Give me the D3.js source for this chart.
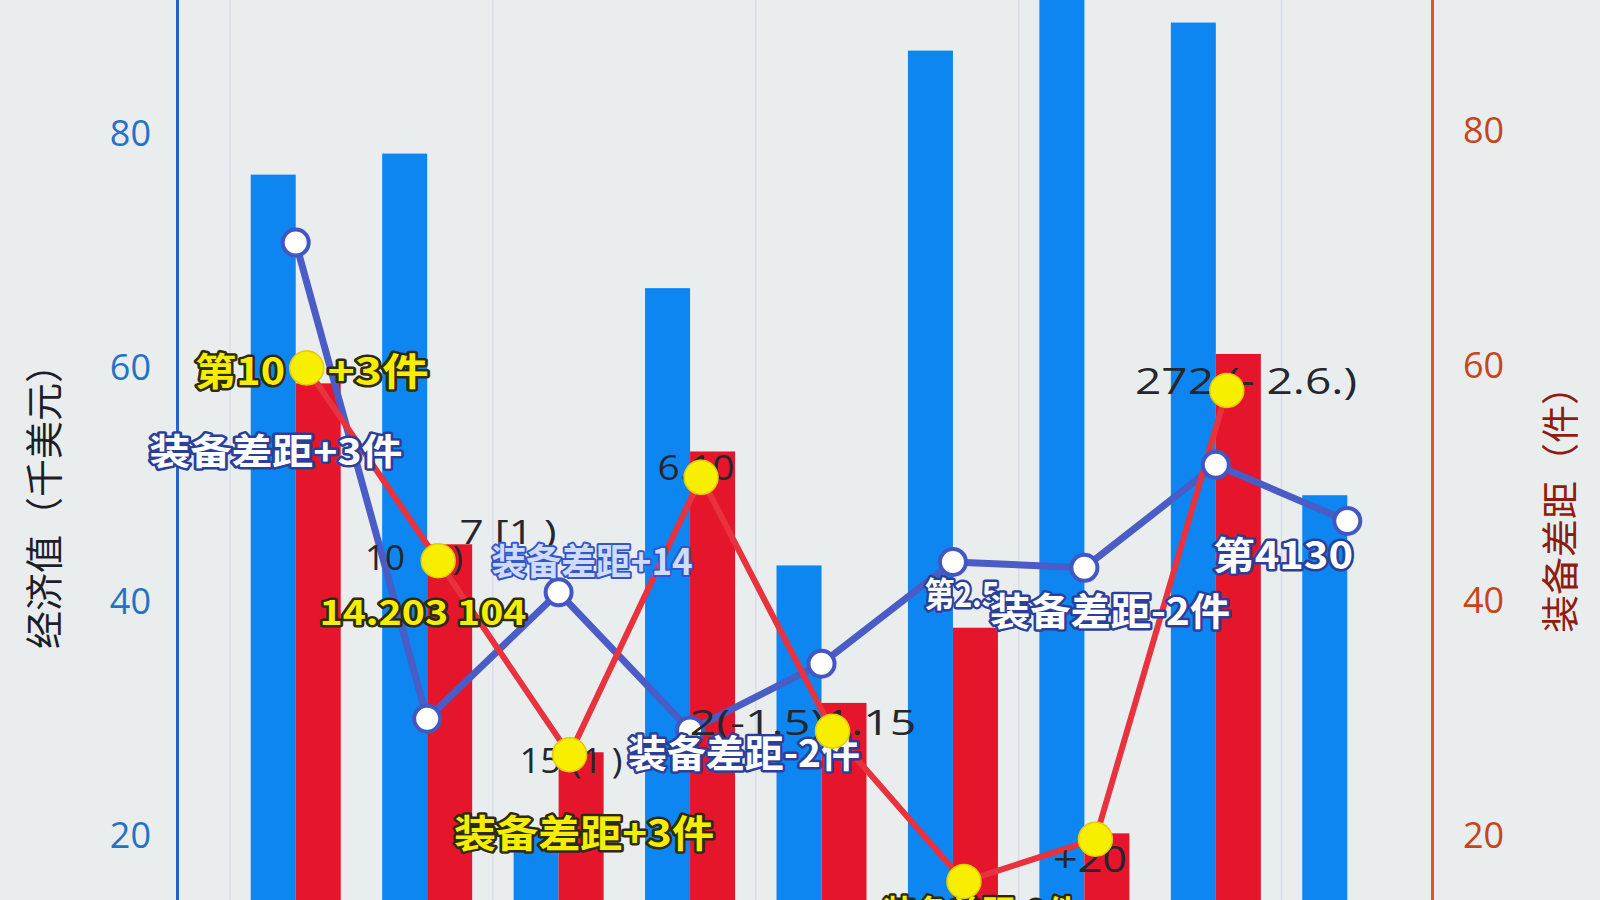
<!DOCTYPE html>
<html>
<head>
<meta charset="utf-8">
<script src="https://cdn.jsdelivr.net/npm/d3@7/dist/d3.min.js"></script>
<style>
  html, body { margin: 0; padding: 0; background: #e9edee; overflow: hidden; }
  svg { display: block; }
</style>
</head>
<body>
<svg id="chart" width="1600" height="900"></svg>
<script>
// ---------------- data ----------------
const categories = ["第1阶段", "第2阶段", "第3阶段", "第4阶段", "第5阶段", "第6阶段", "第7阶段", "第8阶段", "第9阶段"];
const economyBars = [76.5, 78.3, 20.3, 66.8, 43.1, 87.1, 95.0, 89.5, 49.1];   // 经济值（千美元）
const gearBars    = [58.5, 44.8, 27.1, 52.7, 31.3, 37.7, 20.2, 61.0, 8.0];    // 装备差距（件）
const economyLine = [70.7, 30.0, 40.8, 29.0, 34.7, 43.4, 42.9, 51.7, 46.9];
const gearLine    = [59.8, 43.4, 26.9, 50.5, 28.9, 16.1, 19.7, 57.9];
const leftTicks   = [20, 40, 60, 80];
const rightTicks  = [20, 40, 60, 80];
const leftTitle   = "经济值（千美元）";
const rightTitle  = "装备差距（件）";

// annotation texts (styles: y = yellow outlined, w = white/blue outlined, b = light blue, d = dark)
const annoTexts = [
  "第10", "+3件", "装备差距+3件", "10", "-)", "7 [1 )", "14.203 104", "装备差距+14",
  "15 (1 )", "装备差距+3件", "6.10", "2(-1.5)1.15", "装备差距-2件", "第2.5", "装备差距-2件",
  "第4130", "272 (- 2.6.)", "+20", "装备差距-2件"
];
const annoStyles = ["y","y","w","d","d","d","y","b","d","y","d","d","w","w","w","w","d","d","y"];

// ---------------- layout ----------------
const W = 1600, H = 900;
const svg = d3.select("#chart");
const CJK = "'Noto Sans CJK SC', 'Noto Sans', sans-serif";
const LAT = "'Open Sans', 'Noto Sans', sans-serif";

const x = d3.scaleBand().domain(categories).range([230, 1413]).padding(0);
const sub = d3.scaleBand().domain(["econ", "gear"]).range([-45, 45]).padding(0);
const yL = d3.scaleLinear().domain([0, 100]).range([1069.7, -100.3]);
const yR = d3.scaleLinear().domain([0, 100]).range([1070.7, -104.3]);
const cx = c => x(c) + x.bandwidth() / 2;

// background
svg.append("rect").attr("width", W).attr("height", H).attr("fill", "#e9edee");

// vertical grid lines at every other band boundary
svg.append("g").selectAll("line")
  .data(categories.filter((d, i) => i % 2 === 0))
  .join("line")
  .attr("x1", d => x(d)).attr("x2", d => x(d))
  .attr("y1", 0).attr("y2", H)
  .attr("stroke", "#d6deea").attr("stroke-width", 1.5);

// bars
svg.append("g").selectAll("rect")
  .data(categories)
  .join("rect")
  .attr("x", d => cx(d) + sub("econ"))
  .attr("width", sub.bandwidth())
  .attr("y", (d, i) => yL(economyBars[i]))
  .attr("height", (d, i) => yL(0) - yL(economyBars[i]))
  .attr("fill", "#0d86f1");

svg.append("g").selectAll("rect")
  .data(categories)
  .join("rect")
  .attr("x", d => cx(d) + sub("gear"))
  .attr("width", sub.bandwidth())
  .attr("y", (d, i) => yR(gearBars[i]))
  .attr("height", (d, i) => yR(0) - yR(gearBars[i]))
  .attr("fill", "#e5152c");

// axes
const axL = svg.append("g").attr("transform", "translate(177,0)")
  .call(d3.axisLeft(yL).tickValues(leftTicks).tickSize(0).tickPadding(26));
axL.select(".domain").attr("stroke", "#2b5fd0").attr("stroke-width", 3);
axL.selectAll("text").attr("font-family", LAT).attr("font-size", 36).attr("fill", "#2472c6");

const axR = svg.append("g").attr("transform", "translate(1432,0)")
  .call(d3.axisRight(yR).tickValues(rightTicks).tickSize(0).tickPadding(31));
axR.select(".domain").attr("stroke", "#e6521d").attr("stroke-width", 3);
axR.selectAll("text").attr("font-family", LAT).attr("font-size", 36).attr("fill", "#c9441a");

// axis titles
svg.append("text").attr("transform", "translate(41,497) rotate(-90)")
  .attr("text-anchor", "middle").attr("dominant-baseline", "central")
  .attr("font-family", CJK).attr("font-size", 38).attr("fill", "#1e1e2a")
  .text(leftTitle);
svg.append("text").attr("transform", "translate(1557,500) rotate(-90)")
  .attr("text-anchor", "middle").attr("dominant-baseline", "central")
  .attr("font-family", CJK).attr("font-size", 38).attr("fill", "#8e1c10")
  .text(rightTitle);

// lines
const econPts = economyLine.map((v, i) => [cx(categories[i]), yL(v)]);
const gearPts = gearLine.map((v, i) => [cx(categories[i]) + 11, yR(v)]);
const line = d3.line();

svg.append("path").attr("d", line(econPts))
  .attr("fill", "none").attr("stroke", "#4a5cc6").attr("stroke-width", 7)
  .attr("stroke-linejoin", "round").attr("stroke-linecap", "round");
svg.append("path").attr("d", line(gearPts))
  .attr("fill", "none").attr("stroke", "#e8323e").attr("stroke-width", 6)
  .attr("stroke-linejoin", "round").attr("stroke-linecap", "round");

svg.append("g").selectAll("circle").data(econPts).join("circle")
  .attr("cx", d => d[0]).attr("cy", d => d[1]).attr("r", 13)
  .attr("fill", "#ffffff").attr("stroke", "#4257c2").attr("stroke-width", 4);

// annotations (layout: center x, center y, width, font size)
const annoLayout = [
  [240, 368, 90, 38], [378, 368, 101, 38], [276, 449, 253, 36], [385, 557, 40, 34],
  [452, 557, 22, 32], [508, 531, 97, 32], [423, 610, 207, 34], [592, 559, 201, 36],
  [571, 760, 103, 34], [584, 830, 260, 38], [696, 467, 77, 34], [803, 722, 227, 34],
  [744, 750, 232, 38], [962, 592, 75, 34], [1110, 608, 240, 38], [1283, 552, 140, 38],
  [1246, 380, 222, 36], [1090, 858, 74, 36], [981, 911, 197, 38]
];
const styleMap = {
  y: { fill: "#f6ee00", stroke: "#2e2a10", sw: 5, w: 700, f: CJK },
  w: { fill: "#ffffff", stroke: "#2c3f98", sw: 5, w: 700, f: CJK },
  b: { fill: "#cfdcff", stroke: "#3556c8", sw: 4, w: 700, f: CJK },
  d: { fill: "#26262e", stroke: "none", sw: 0, w: 400, f: LAT }
};
const annoG = svg.append("g");
annoTexts.forEach((t, i) => {
  const s = styleMap[annoStyles[i]];
  const L = annoLayout[i];
  annoG.append("text")
    .attr("x", L[0]).attr("y", L[1])
    .attr("text-anchor", "middle").attr("dominant-baseline", "central")
    .attr("font-family", s.f).attr("font-weight", s.w).attr("font-size", L[3])
    .attr("textLength", L[2]).attr("lengthAdjust", "spacingAndGlyphs")
    .attr("fill", s.fill).attr("stroke", s.stroke).attr("stroke-width", s.sw)
    .attr("stroke-linejoin", "round").attr("paint-order", "stroke")
    .text(t);
});

// yellow points on top
svg.append("g").selectAll("circle").data(gearPts).join("circle")
  .attr("cx", d => d[0]).attr("cy", d => d[1]).attr("r", 17)
  .attr("fill", "#f8ef00").attr("stroke", "#e2cc00").attr("stroke-width", 1.5);
</script>
</body>
</html>
